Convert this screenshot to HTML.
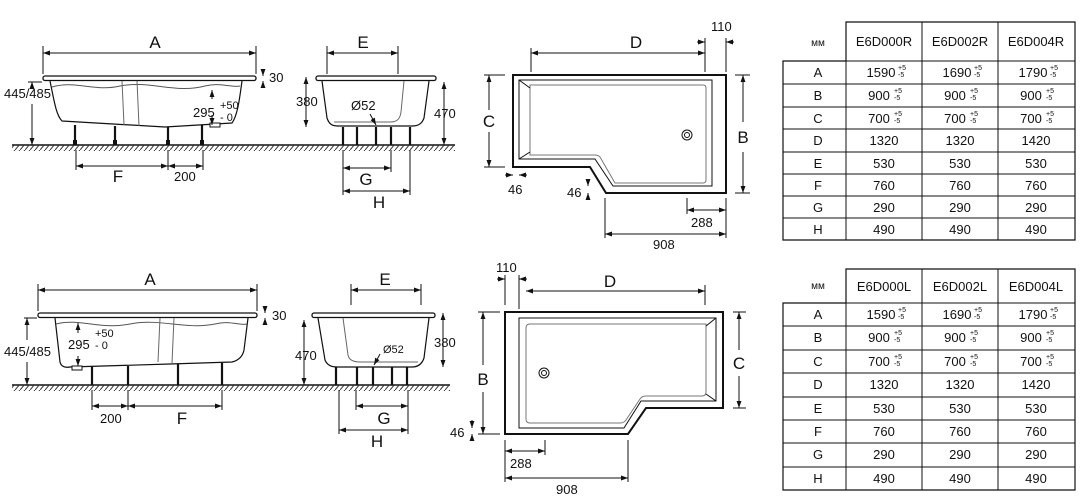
<!DOCTYPE html>
<html><head><meta charset="utf-8"><style>
html,body{margin:0;padding:0;background:#fff;}
svg{display:block;}
text{font-family:"Liberation Sans",Arial,sans-serif;fill:#111;}
</style></head><body>
<svg width="1082" height="503" viewBox="0 0 1082 503" xmlns="http://www.w3.org/2000/svg">
<defs>
<pattern id="h" width="5" height="6" patternUnits="userSpaceOnUse"><path d="M5 0 L0 6" stroke="#333" stroke-width="1"/></pattern>
<marker id="ar" viewBox="0 0 10 10" refX="10" refY="5" markerWidth="7" markerHeight="7" orient="auto-start-reverse"><path d="M0 1.5 L10 5 L0 8.5z" fill="#111"/></marker>
</defs>
<g stroke="#111" stroke-width="1" fill="none">

<!-- ===== TOP SIDE VIEW ===== -->
<line x1="12" y1="145" x2="455" y2="145" stroke-width="1.5"/>
<rect x="12" y="145" width="443" height="6" fill="url(#h)" stroke="none"/>
<rect x="43" y="76" width="213" height="4.5" rx="2" stroke-width="1.3"/>
<path d="M50 81 C54 100 56 115 62 121 L165 127 L232 123 C238 115 240 95 242 81" stroke-width="1.2"/>
<path d="M52 87 C75 80 95 92 120 86 C150 80 175 94 205 86 C220 82 232 88 240 86" stroke="#555"/>
<path d="M122 81 L124 125 M137 81 L139 126" stroke="#666"/>
<g stroke-width="2.2"><line x1="75" y1="125" x2="75" y2="145"/><line x1="115" y1="126" x2="115" y2="145"/><line x1="168" y1="127" x2="168" y2="145"/><line x1="202" y1="125" x2="202" y2="145"/></g>
<g stroke-width="4"><line x1="75" y1="140" x2="75" y2="145"/><line x1="115" y1="140" x2="115" y2="145"/><line x1="168" y1="140" x2="168" y2="145"/><line x1="202" y1="140" x2="202" y2="145"/></g>
<rect x="210" y="123" width="10" height="4" fill="#fff"/>
<line x1="43" y1="53" x2="256" y2="53" marker-start="url(#ar)" marker-end="url(#ar)"/>
<line x1="43" y1="46" x2="43" y2="74"/><line x1="256" y1="46" x2="256" y2="74"/>
<line x1="32" y1="85" x2="32" y2="82" marker-end="url(#ar)"/><line x1="32" y1="82" x2="32" y2="84"/>
<line x1="32" y1="104" x2="32" y2="145" marker-end="url(#ar)"/>
<line x1="32" y1="82" x2="32" y2="84"/>
<line x1="32" y1="84" x2="32" y2="82" marker-end="url(#ar)"/>
<line x1="28" y1="82" x2="42" y2="82"/>
<line x1="263" y1="70" x2="263" y2="76" marker-end="url(#ar)"/><line x1="263" y1="87" x2="263" y2="81" marker-end="url(#ar)"/>
<line x1="212" y1="90" x2="212" y2="99" marker-start="url(#ar)"/><line x1="212" y1="115" x2="212" y2="125" marker-end="url(#ar)"/>
<line x1="76" y1="150" x2="76" y2="170"/><line x1="168" y1="150" x2="168" y2="170"/><line x1="203" y1="150" x2="203" y2="170"/>
<line x1="76" y1="166" x2="168" y2="166" marker-start="url(#ar)" marker-end="url(#ar)"/>
<line x1="168" y1="166" x2="203" y2="166" marker-start="url(#ar)" marker-end="url(#ar)"/>

<!-- ===== TOP END VIEW ===== -->
<rect x="316" y="76" width="120" height="4.5" rx="2" stroke-width="1.3"/>
<path d="M322 81 L327 118 C329 124 332 126 338 126 L412 126 C418 126 422 124 424 118 L429 81" stroke-width="1.2"/>
<path d="M404 81 L401 112 C400 120 396 122 390 122 L334 122" stroke="#666"/>
<g stroke-width="2.2"><line x1="343" y1="127" x2="343" y2="145"/><line x1="357" y1="127" x2="357" y2="145"/><line x1="376" y1="127" x2="376" y2="145"/><line x1="391" y1="127" x2="391" y2="145"/><line x1="410" y1="127" x2="410" y2="145"/></g>
<line x1="327" y1="53" x2="398" y2="53" marker-start="url(#ar)" marker-end="url(#ar)"/>
<line x1="327" y1="46" x2="327" y2="74"/><line x1="398" y1="46" x2="398" y2="74"/>
<line x1="306" y1="77" x2="306" y2="127" marker-start="url(#ar)" marker-end="url(#ar)"/>
<line x1="444" y1="82" x2="444" y2="145" marker-start="url(#ar)" marker-end="url(#ar)"/>
<line x1="370" y1="114" x2="376" y2="125" marker-end="url(#ar)"/>
<line x1="343" y1="150" x2="343" y2="195"/><line x1="391" y1="150" x2="391" y2="172"/><line x1="410" y1="150" x2="410" y2="195"/>
<line x1="343" y1="168" x2="391" y2="168" marker-start="url(#ar)" marker-end="url(#ar)"/>
<line x1="343" y1="191" x2="410" y2="191" marker-start="url(#ar)" marker-end="url(#ar)"/>

<!-- ===== TOP PLAN ===== -->
<path d="M513 75 L726 75 L726 193 L606 193 L590 167 L513 167 Z" stroke-width="2"/>
<path d="M519 80 L712 80 L712 186 L613 186 L595 159 L519 159 Z"/>
<path d="M530 85 L703 85 Q706 85 706 88 L706 180 Q706 183 703 183 L615 183 L600 157 Q598 155 595 155 L530 155 Z" stroke="#777"/>
<line x1="519" y1="80" x2="530" y2="88"/><line x1="519" y1="159" x2="530" y2="152"/>
<circle cx="687" cy="135" r="5"/><circle cx="687" cy="135" r="2.5"/>
<line x1="531" y1="53" x2="705" y2="53" marker-start="url(#ar)" marker-end="url(#ar)"/>
<line x1="531" y1="48" x2="531" y2="72"/><line x1="705" y1="38" x2="705" y2="72"/><line x1="726" y1="38" x2="726" y2="72"/>
<line x1="697" y1="42" x2="705" y2="42" marker-end="url(#ar)"/><line x1="734" y1="42" x2="726" y2="42" marker-end="url(#ar)"/>
<line x1="484" y1="75" x2="505" y2="75"/><line x1="484" y1="167" x2="505" y2="167"/>
<line x1="489" y1="110" x2="489" y2="75" marker-end="url(#ar)"/><line x1="489" y1="132" x2="489" y2="167" marker-end="url(#ar)"/>
<line x1="735" y1="75" x2="750" y2="75"/><line x1="735" y1="193" x2="750" y2="193"/>
<line x1="743" y1="122" x2="743" y2="75" marker-end="url(#ar)"/><line x1="743" y1="152" x2="743" y2="193" marker-end="url(#ar)"/>
<line x1="505" y1="175" x2="513" y2="175" marker-end="url(#ar)"/><line x1="527" y1="175" x2="519" y2="175" marker-end="url(#ar)"/>
<line x1="588" y1="179" x2="588" y2="186" marker-end="url(#ar)"/><line x1="588" y1="200" x2="588" y2="193" marker-end="url(#ar)"/>
<line x1="687" y1="198" x2="687" y2="214"/><line x1="726" y1="198" x2="726" y2="238"/><line x1="605" y1="198" x2="605" y2="238"/>
<line x1="687" y1="210" x2="726" y2="210" marker-start="url(#ar)" marker-end="url(#ar)"/>
<line x1="605" y1="234" x2="726" y2="234" marker-start="url(#ar)" marker-end="url(#ar)"/>

<!-- ===== BOTTOM SIDE VIEW ===== -->
<line x1="12" y1="385" x2="450" y2="385" stroke-width="1.5"/>
<rect x="12" y="385" width="438" height="6" fill="url(#h)" stroke="none"/>
<rect x="38" y="313" width="219" height="4.5" rx="2" stroke-width="1.3"/>
<path d="M55 318 L60 362 C61 366 64 368 70 367 L170 364 L232 362 C240 360 243 355 244 350 L248 318" stroke-width="1.2"/>
<path d="M56 324 C80 318 100 330 130 324 C160 318 185 330 215 324 C230 320 240 326 247 324" stroke="#555"/>
<path d="M160 318 L158 362 M174 318 L172 363" stroke="#666"/>
<rect x="72" y="366" width="10" height="4" fill="#fff"/>
<g stroke-width="2.2"><line x1="92" y1="366" x2="92" y2="385"/><line x1="128" y1="366" x2="128" y2="385"/><line x1="178" y1="364" x2="178" y2="385"/><line x1="222" y1="363" x2="222" y2="385"/></g>
<line x1="38" y1="290" x2="257" y2="290" marker-start="url(#ar)" marker-end="url(#ar)"/>
<line x1="38" y1="284" x2="38" y2="311"/><line x1="257" y1="284" x2="257" y2="311"/>
<line x1="27" y1="340" x2="27" y2="318" marker-end="url(#ar)"/><line x1="27" y1="362" x2="27" y2="385" marker-end="url(#ar)"/>
<line x1="24" y1="318" x2="37" y2="318"/>
<line x1="265" y1="306" x2="265" y2="313" marker-end="url(#ar)"/><line x1="265" y1="325" x2="265" y2="318" marker-end="url(#ar)"/>
<line x1="78" y1="323" x2="78" y2="333" marker-start="url(#ar)"/><line x1="78" y1="356" x2="78" y2="366" marker-end="url(#ar)"/>
<line x1="92" y1="390" x2="92" y2="410"/><line x1="128" y1="390" x2="128" y2="410"/><line x1="222" y1="390" x2="222" y2="410"/>
<line x1="92" y1="406" x2="128" y2="406" marker-start="url(#ar)" marker-end="url(#ar)"/>
<line x1="128" y1="406" x2="222" y2="406" marker-start="url(#ar)" marker-end="url(#ar)"/>

<!-- ===== BOTTOM END VIEW ===== -->
<rect x="312" y="313" width="123" height="4.5" rx="2" stroke-width="1.3"/>
<path d="M318 318 L325 360 C327 365 331 367 337 367 L412 367 C418 367 422 364 424 358 L429 318" stroke-width="1.2"/>
<path d="M343 318 L348 355 C349 360 353 362 360 362 L418 362" stroke="#666"/>
<g stroke-width="2.2"><line x1="336" y1="367" x2="336" y2="385"/><line x1="357" y1="367" x2="357" y2="385"/><line x1="373" y1="367" x2="373" y2="385"/><line x1="392" y1="367" x2="392" y2="385"/><line x1="407" y1="367" x2="407" y2="385"/></g>
<line x1="351" y1="290" x2="421" y2="290" marker-start="url(#ar)" marker-end="url(#ar)"/>
<line x1="351" y1="284" x2="351" y2="305"/><line x1="421" y1="284" x2="421" y2="305"/>
<line x1="304" y1="320" x2="304" y2="385" marker-start="url(#ar)" marker-end="url(#ar)"/>
<line x1="443" y1="313" x2="443" y2="367" marker-start="url(#ar)" marker-end="url(#ar)"/>
<line x1="380" y1="354" x2="374" y2="365" marker-end="url(#ar)"/>
<line x1="339" y1="390" x2="339" y2="434"/><line x1="356" y1="390" x2="356" y2="410"/><line x1="408" y1="390" x2="408" y2="434"/>
<line x1="356" y1="406" x2="408" y2="406" marker-start="url(#ar)" marker-end="url(#ar)"/>
<line x1="339" y1="430" x2="408" y2="430" marker-start="url(#ar)" marker-end="url(#ar)"/>

<!-- ===== BOTTOM PLAN ===== -->
<path d="M505 312 L723 312 L723 408 L646 408 L628 434 L505 434 Z" stroke-width="2"/>
<path d="M519 318 L716 318 L716 401 L641 401 L624 428 L519 428 Z"/>
<path d="M530 324 L706 324 L706 392 Q706 396 702 396 L646 396 Q642 396 640 399 L626 420 Q624 423 620 423 L530 423 Q526 423 526 419 L526 328 Q526 324 530 324 Z" stroke="#777"/>
<line x1="716" y1="318" x2="706" y2="326"/><line x1="716" y1="401" x2="706" y2="394"/>
<circle cx="544" cy="373" r="5"/><circle cx="544" cy="373" r="2.5"/>
<line x1="526" y1="291" x2="705" y2="291" marker-start="url(#ar)" marker-end="url(#ar)"/>
<line x1="705" y1="285" x2="705" y2="305"/><line x1="505" y1="275" x2="505" y2="305"/><line x1="519" y1="275" x2="519" y2="309"/>
<line x1="497" y1="279" x2="505" y2="279" marker-end="url(#ar)"/><line x1="527" y1="279" x2="519" y2="279" marker-end="url(#ar)"/>
<line x1="478" y1="312" x2="500" y2="312"/><line x1="478" y1="434" x2="500" y2="434"/>
<line x1="483" y1="365" x2="483" y2="312" marker-end="url(#ar)"/><line x1="483" y1="392" x2="483" y2="434" marker-end="url(#ar)"/>
<line x1="733" y1="312" x2="746" y2="312"/><line x1="733" y1="408" x2="746" y2="408"/>
<line x1="739" y1="350" x2="739" y2="312" marker-end="url(#ar)"/><line x1="739" y1="376" x2="739" y2="408" marker-end="url(#ar)"/>
<line x1="472" y1="420" x2="472" y2="428" marker-end="url(#ar)"/><line x1="472" y1="441" x2="472" y2="434" marker-end="url(#ar)"/>
<line x1="505" y1="440" x2="505" y2="482"/><line x1="545" y1="440" x2="545" y2="455"/><line x1="628" y1="440" x2="628" y2="482"/>
<line x1="505" y1="451" x2="545" y2="451" marker-start="url(#ar)" marker-end="url(#ar)"/>
<line x1="505" y1="478" x2="628" y2="478" marker-start="url(#ar)" marker-end="url(#ar)"/>

<!-- ===== TABLES ===== -->
<path d="M846 22 L1075 22 L1075 240 L783 240 L783 61 L846 61 Z" stroke-width="1.2"/>
<path d="M846 22 V240 M922 22 V240 M998 22 V240 M783 84 H1075 M783 107 H1075 M783 129 H1075 M783 152 H1075 M783 174 H1075 M783 196 H1075 M783 218 H1075 M783 61 H1075"/>
<path d="M846 269 L1075 269 L1075 490 L783 490 L783 303 L846 303 Z" stroke-width="1.2"/>
<path d="M846 269 V490 M922 269 V490 M998 269 V490 M783 303 H1075 M783 326 H1075 M783 350 H1075 M783 373 H1075 M783 397 H1075 M783 420 H1075 M783 443 H1075 M783 467 H1075"/>
</g>

<g font-size="17" text-anchor="middle">
<text x="155" y="48">A</text><text x="363" y="48">E</text><text x="118" y="182">F</text><text x="366" y="185">G</text><text x="379" y="208">H</text>
<text x="636" y="48">D</text><text x="489" y="127">C</text><text x="743" y="143">B</text>
<text x="150" y="285">A</text><text x="385" y="285">E</text><text x="182" y="424">F</text><text x="384" y="424">G</text><text x="377" y="447">H</text>
<text x="610" y="287">D</text><text x="483" y="385">B</text><text x="739" y="369">C</text>
</g>
<g font-size="13">
<text x="4" y="98">445/485</text><text x="269" y="82">30</text><text x="193" y="117">295</text><text x="220" y="109" font-size="11">+50</text><text x="220" y="121" font-size="11">- 0</text>
<text x="174" y="181">200</text>
<text x="296" y="106">380</text><text x="434" y="118">470</text><text x="351" y="110">Ø52</text>
<text x="711" y="31">110</text><text x="508" y="194">46</text><text x="567" y="197">46</text><text x="691" y="227">288</text><text x="653" y="249">908</text>
<text x="4" y="356">445/485</text><text x="272" y="320">30</text><text x="68" y="349">295</text><text x="95" y="337" font-size="11">+50</text><text x="95" y="349" font-size="11">- 0</text>
<text x="100" y="423">200</text>
<text x="295" y="360">470</text><text x="434" y="347">380</text><text x="383" y="353" font-size="11">Ø52</text>
<text x="496" y="272">110</text><text x="450" y="437">46</text><text x="510" y="468">288</text><text x="556" y="494">908</text>
</g>
<g font-size="13" text-anchor="middle">
<text x="818" y="46" font-size="10">мм</text><text x="884" y="46">E6D000R</text><text x="960" y="46">E6D002R</text><text x="1036" y="46">E6D004R</text>
<text x="818" y="77">A</text><text x="818" y="100">B</text><text x="818" y="123">C</text><text x="818" y="145">D</text><text x="818" y="168">E</text><text x="818" y="190">F</text><text x="818" y="212">G</text><text x="818" y="234">H</text>
<text x="881" y="77">1590</text><text x="957" y="77">1690</text><text x="1033" y="77">1790</text>
<text x="879" y="100">900</text><text x="955" y="100">900</text><text x="1031" y="100">900</text>
<text x="879" y="123">700</text><text x="955" y="123">700</text><text x="1031" y="123">700</text>
<text x="884" y="145">1320</text><text x="960" y="145">1320</text><text x="1036" y="145">1420</text>
<text x="884" y="168">530</text><text x="960" y="168">530</text><text x="1036" y="168">530</text>
<text x="884" y="190">760</text><text x="960" y="190">760</text><text x="1036" y="190">760</text>
<text x="884" y="212">290</text><text x="960" y="212">290</text><text x="1036" y="212">290</text>
<text x="884" y="234">490</text><text x="960" y="234">490</text><text x="1036" y="234">490</text>

<text x="818" y="289" font-size="10">мм</text><text x="884" y="291">E6D000L</text><text x="960" y="291">E6D002L</text><text x="1036" y="291">E6D004L</text>
<text x="818" y="319">A</text><text x="818" y="342">B</text><text x="818" y="366">C</text><text x="818" y="389">D</text><text x="818" y="413">E</text><text x="818" y="436">F</text><text x="818" y="459">G</text><text x="818" y="483">H</text>
<text x="881" y="319">1590</text><text x="957" y="319">1690</text><text x="1033" y="319">1790</text>
<text x="879" y="342">900</text><text x="955" y="342">900</text><text x="1031" y="342">900</text>
<text x="879" y="366">700</text><text x="955" y="366">700</text><text x="1031" y="366">700</text>
<text x="884" y="389">1320</text><text x="960" y="389">1320</text><text x="1036" y="389">1420</text>
<text x="884" y="413">530</text><text x="960" y="413">530</text><text x="1036" y="413">530</text>
<text x="884" y="436">760</text><text x="960" y="436">760</text><text x="1036" y="436">760</text>
<text x="884" y="459">290</text><text x="960" y="459">290</text><text x="1036" y="459">290</text>
<text x="884" y="483">490</text><text x="960" y="483">490</text><text x="1036" y="483">490</text>
</g>
<g font-size="7">
<text x="898" y="70">+5</text><text x="898" y="77">-5</text><text x="974" y="70">+5</text><text x="974" y="77">-5</text><text x="1050" y="70">+5</text><text x="1050" y="77">-5</text>
<text x="894" y="93">+5</text><text x="894" y="100">-5</text><text x="970" y="93">+5</text><text x="970" y="100">-5</text><text x="1046" y="93">+5</text><text x="1046" y="100">-5</text>
<text x="894" y="116">+5</text><text x="894" y="123">-5</text><text x="970" y="116">+5</text><text x="970" y="123">-5</text><text x="1046" y="116">+5</text><text x="1046" y="123">-5</text>
<text x="898" y="312">+5</text><text x="898" y="319">-5</text><text x="974" y="312">+5</text><text x="974" y="319">-5</text><text x="1050" y="312">+5</text><text x="1050" y="319">-5</text>
<text x="894" y="335">+5</text><text x="894" y="342">-5</text><text x="970" y="335">+5</text><text x="970" y="342">-5</text><text x="1046" y="335">+5</text><text x="1046" y="342">-5</text>
<text x="894" y="359">+5</text><text x="894" y="366">-5</text><text x="970" y="359">+5</text><text x="970" y="366">-5</text><text x="1046" y="359">+5</text><text x="1046" y="366">-5</text>
</g>
</svg>
</body></html>
